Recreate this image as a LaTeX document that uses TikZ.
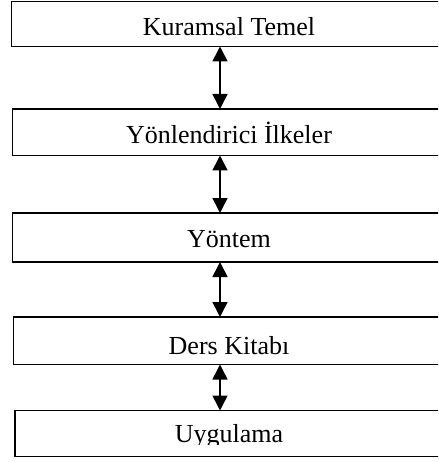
\documentclass[tikz,border=0pt]{standalone}
\usepackage{fontspec}
\setmainfont{Liberation Serif}
\usetikzlibrary{arrows.meta}
\tikzset{
  box/.style={draw=black, line width=1.6pt, rectangle, inner sep=0pt, outer sep=0pt, anchor=north west, fill=white},
  lbl/.style={anchor=base, inner sep=0pt, font=\fontsize{26}{30}\selectfont},
  arr/.style={line width=1.6pt, {Triangle[length=15pt,width=15pt]}-{Triangle[length=15pt,width=15pt]}}
}
\begin{document}
\begin{tikzpicture}[x=1pt,y=1pt]
\useasboundingbox (0,0) rectangle (438,-462);
\begin{scope}
\clip (0,0) rectangle (438,-462);
\node[box, minimum width=435.5pt, minimum height=45pt] (b1) at (11.5,-1.5) {};
\node[box, minimum width=434.5pt, minimum height=46.5pt] (b2) at (12.5,-109) {};
\node[box, minimum width=434.5pt, minimum height=49pt] (b3) at (12.5,-213) {};
\node[box, minimum width=433.5pt, minimum height=47.5pt] (b4) at (13.5,-317) {};
\node[box, minimum width=432pt, minimum height=46pt] (b5) at (15,-410.5) {};
\end{scope}
\node[lbl] (t1) at (229,-36) {Kuramsal Temel};
\node[lbl] (t2) at (229,-144) {Yönlendirici İlkeler};
\node[lbl] (t3) at (229,-247) {Yöntem};
\node[lbl] (t4) at (229,-354) {Ders Kitabı};
\begin{scope}
\clip (15,-410.5) rectangle (438,-444.5);
\node[lbl] (t5) at (229,-442) {Uygulama};
\end{scope}
\coordinate (ax) at (220,0);
\draw[arr] (b1.south -| ax) -- (b2.north -| ax);
\draw[arr] (b2.south -| ax) -- (b3.north -| ax);
\draw[arr] (b3.south -| ax) -- (b4.north -| ax);
\draw[arr] (b4.south -| ax) -- (b5.north -| ax);
\end{tikzpicture}
\end{document}
